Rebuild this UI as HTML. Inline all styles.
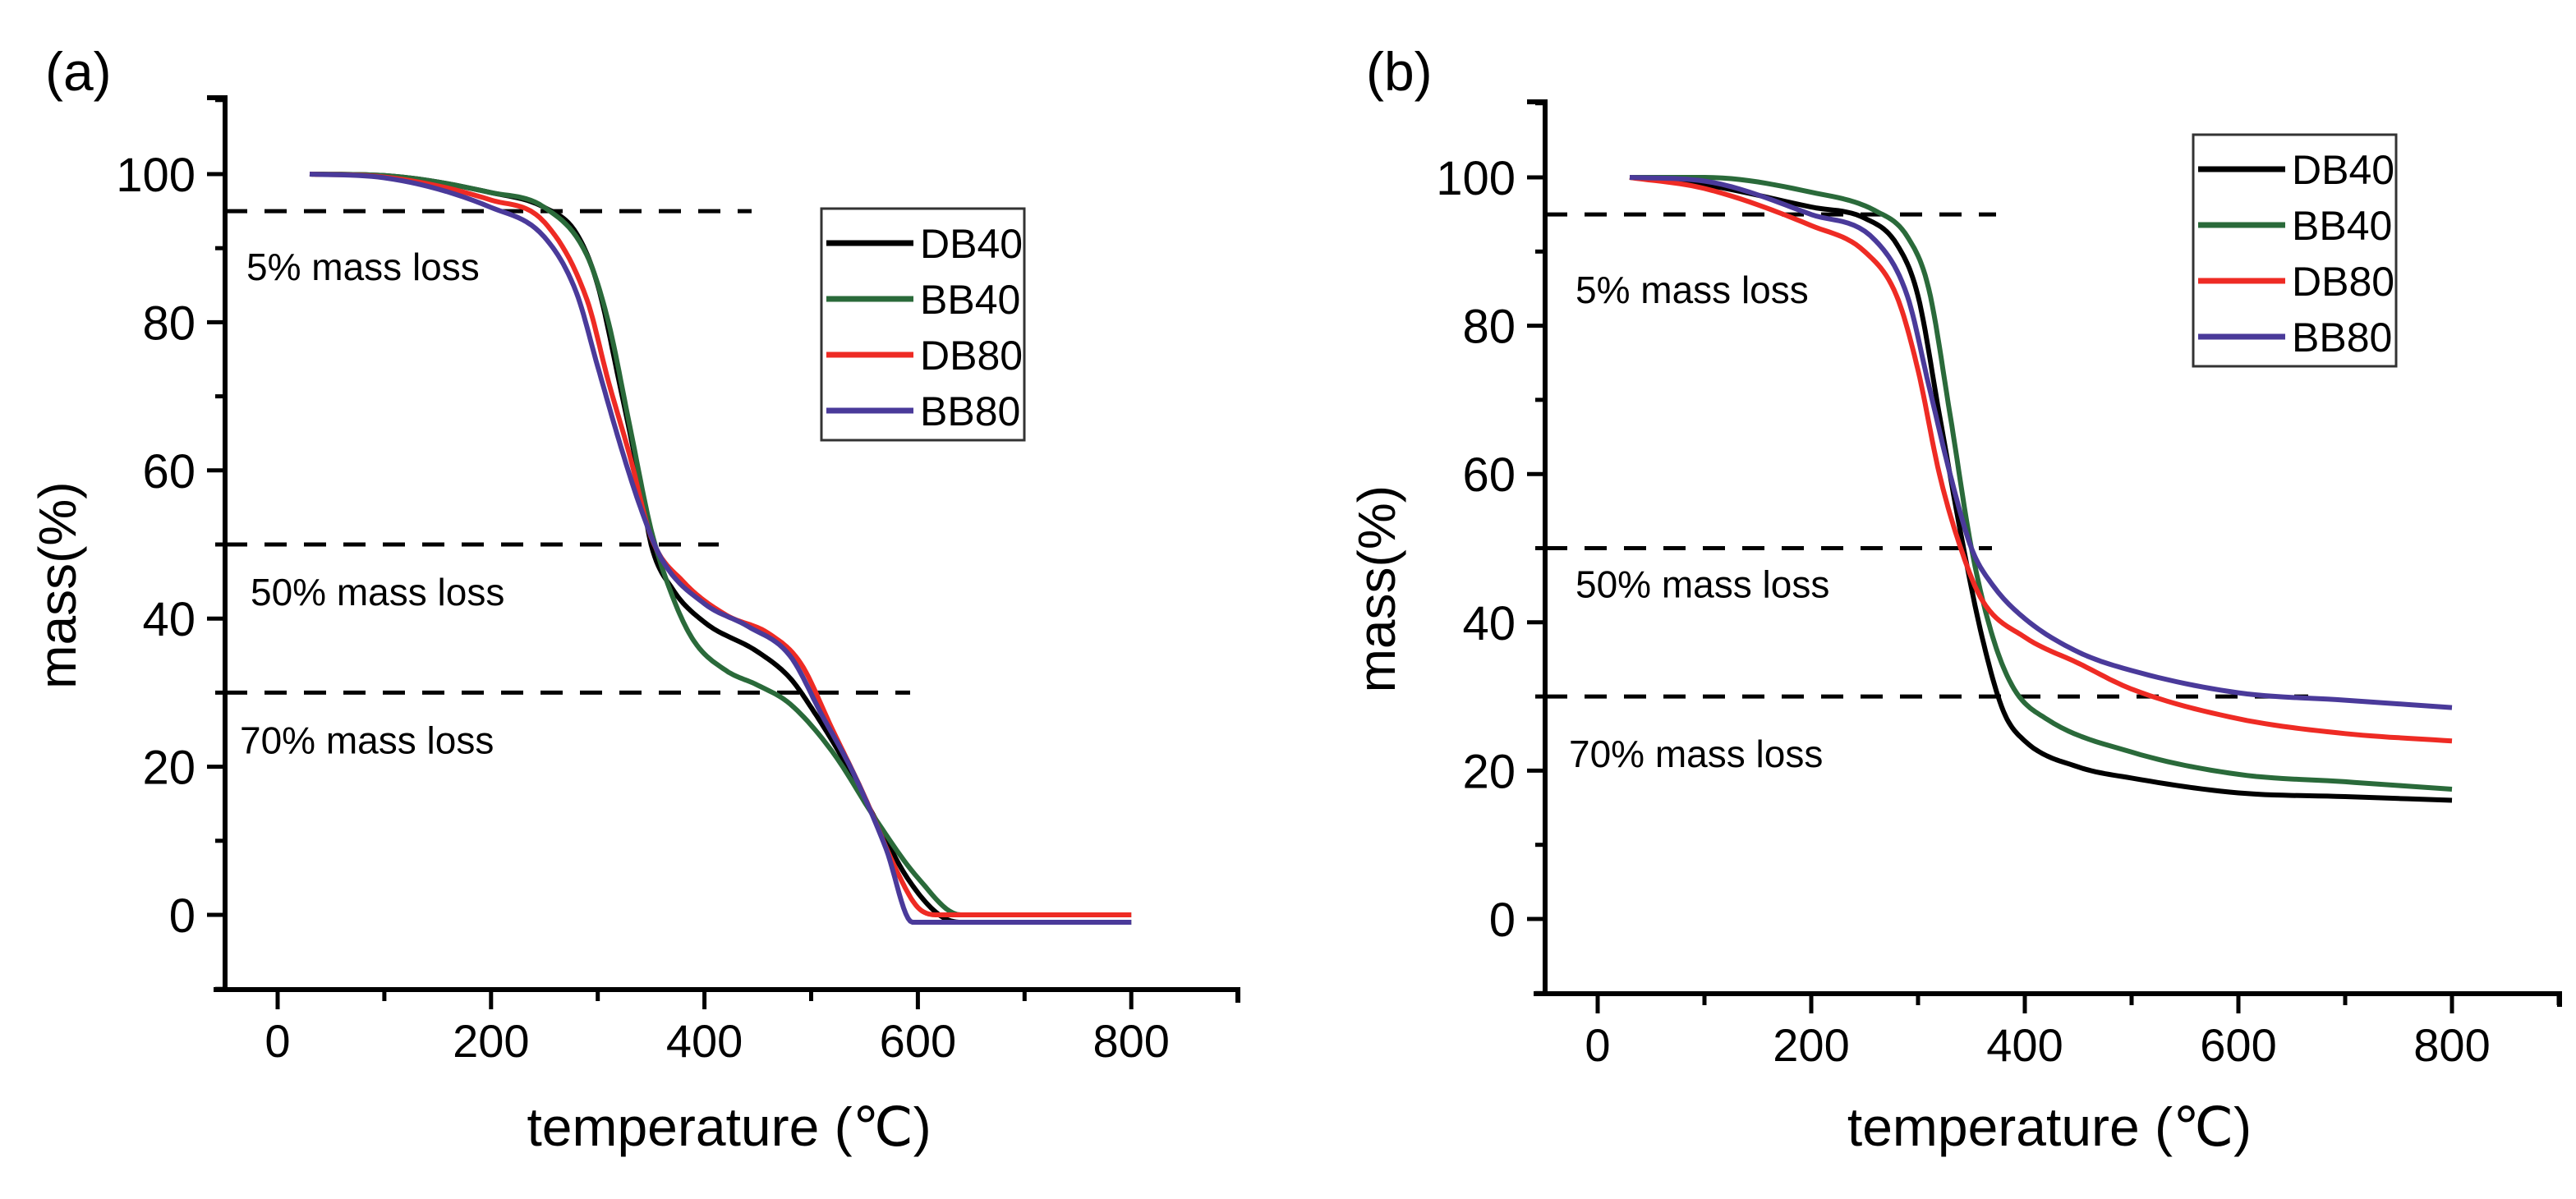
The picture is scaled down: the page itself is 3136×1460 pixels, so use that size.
<!DOCTYPE html>
<html><head><meta charset="utf-8"><style>
body{margin:0;background:#fff;}
svg text{font-family:"Liberation Sans",sans-serif;}
</style></head><body>
<svg id="c" width="3136" height="1455" viewBox="0 0 3136 1455" xmlns="http://www.w3.org/2000/svg"></svg>
<script>
const xTicks=[0,200,400,600,800];
const yTicks=[0,20,40,60,80,100];
const seriesNames=["DB40","BB40","DB80","BB80"];
const seriesColors=["#000000","#2a6a3a","#ee2b24","#4a3a9a"];
const a_DB40_x=[30,100,200,250,280,300,320,340,350,370,400,450,480,500,530,560,590,620,640,800];
const a_DB40_y=[100,99.8,97.5,95.5,92,85,72,58,50,44,39.5,35.5,32,28,21,13,5,0,-1,-1];
const a_BB40_x=[30,100,200,250,290,310,330,350,370,390,420,450,480,520,560,600,640,800];
const a_BB40_y=[100,99.8,97.5,95.5,89,80,66,52,43,37,33,31,28.5,22,13,5,0,0];
const a_DB80_x=[30,100,200,250,290,310,330,350,380,420,460,490,520,550,580,600,620,800];
const a_DB80_y=[100,99.6,96.5,93.5,83,72,62,51,45,40.5,38,34,25,16,6,1,0,0];
const a_BB80_x=[30,100,200,250,280,300,320,340,360,400,440,480,510,540,570,595,800];
const a_BB80_y=[100,99.5,95.5,91.5,84,74,64,55,48,42,39,35,27,19,9,-1,-1];
const b_DB40_x=[30,100,200,250,280,300,320,340,360,380,400,450,500,600,700,800];
const b_DB40_y=[100,99,96,94.5,91,84,68,52,38,28,24,20.5,19,17,16.5,16];
const b_BB40_x=[30,100,200,260,290,310,330,350,370,390,420,500,600,700,800];
const b_BB40_y=[100,100,98,95.5,92,85,68,50,38,31,27,22.5,19.5,18.5,17.5];
const b_DB80_x=[30,100,200,250,280,300,320,340,360,400,450,500,600,700,800];
const b_DB80_y=[100,98.5,93.5,90,84,74,60,50,43,38,34.5,31,27,25,24];
const b_BB80_x=[30,100,200,260,290,310,330,350,370,400,450,500,600,700,800];
const b_BB80_y=[100,99.5,95,91.5,84,72,60,50,45,40.5,36,33.5,30.5,29.5,28.5];
const lossLevels=[95,50,30];
const lossLabels=["5% mass loss","50% mass loss","70% mass loss"];

const NS="http://www.w3.org/2000/svg";
const svg=document.getElementById('c');
function mk(tag,attrs,parent){const e=document.createElementNS(NS,tag);for(const k in attrs)e.setAttribute(k,attrs[k]);(parent||svg).appendChild(e);return e;}
function monotone(xs,ys){
  const n=xs.length,d=[],m=new Array(n);
  for(let i=0;i<n-1;i++)d.push((ys[i+1]-ys[i])/(xs[i+1]-xs[i]));
  m[0]=d[0];m[n-1]=d[n-2];
  for(let i=1;i<n-1;i++){m[i]=(d[i-1]*d[i]<=0)?0:(d[i-1]+d[i])/2;}
  for(let i=0;i<n-1;i++){if(d[i]===0){m[i]=0;m[i+1]=0;continue;}const a=m[i]/d[i],b=m[i+1]/d[i],s=a*a+b*b;if(s>9){const t=3/Math.sqrt(s);m[i]=t*a*d[i];m[i+1]=t*b*d[i];}}
  const out=[];
  for(let i=0;i<n-1;i++){const h=xs[i+1]-xs[i];for(let k=0;k<12;k++){const t=k/12,t2=t*t,t3=t2*t;
    const y=(2*t3-3*t2+1)*ys[i]+(t3-2*t2+t)*h*m[i]+(-2*t3+3*t2)*ys[i+1]+(t3-t2)*h*m[i+1];out.push([xs[i]+t*h,y]);}}
  out.push([xs[n-1],ys[n-1]]);return out;
}

function panel(cfg){
  const g=mk('g',{});
  
  
  const X=v=>cfg.x0+v*cfg.xs, Y=v=>cfg.y0-v*cfg.ys;
  lossLevels.forEach((l,i)=>{
    const ln=mk('line',{x1:cfg.axL,x2:cfg.dashEnd[i],y1:Y(l),y2:Y(l),stroke:'#000','stroke-width':5,'stroke-dasharray':'27,21'},g);
    
    
    const t=mk('text',{x:cfg.lblX[i],y:Y(l)+cfg.lblDy[i],'font-size':46,fill:'#000'},g);t.textContent=lossLabels[i];
    
    
  });
  cfg.series.forEach((s,i)=>{
    const pts=monotone(s[0],s[1]).map(p=>`${X(p[0]).toFixed(1)},${Y(p[1]).toFixed(1)}`).join(' ');
    const p=mk('polyline',{points:pts,fill:'none',stroke:seriesColors[i],'stroke-width':6,'stroke-linejoin':'round'},g);
    
    
  });
  const ax=mk('path',{d:`M${cfg.axL-22},${cfg.axT}H${cfg.axL}V${cfg.axB}H${cfg.axR}V${cfg.axB+16}`,fill:'none',stroke:'#000','stroke-width':6},g);
  
  
  mk('line',{x1:cfg.axL-14,x2:cfg.axL,y1:cfg.axB,y2:cfg.axB,stroke:'#000','stroke-width':6},g);
  xTicks.forEach(v=>{
    mk('line',{x1:X(v),x2:X(v),y1:cfg.axB,y2:cfg.axB+24,stroke:'#000','stroke-width':5},g);
    mk('line',{x1:X(v+100),x2:X(v+100),y1:cfg.axB,y2:cfg.axB+14,stroke:'#000','stroke-width':5},g);
    const t=mk('text',{x:X(v),y:cfg.axB+82,'font-size':56,'text-anchor':'middle'},g);t.textContent=v;
    
    
  });
  yTicks.forEach(v=>{
    mk('line',{x1:cfg.axL-22,x2:cfg.axL,y1:Y(v),y2:Y(v),stroke:'#000','stroke-width':5},g);
    mk('line',{x1:cfg.axL-12,x2:cfg.axL,y1:Y(v+10),y2:Y(v+10),stroke:'#000','stroke-width':5},g);
    const t=mk('text',{x:cfg.axL-36,y:Y(v)+21,'font-size':58,'text-anchor':'end'},g);t.textContent=v;
    
    
  });
  mk('line',{x1:cfg.axL-12,x2:cfg.axL,y1:Y(-10),y2:Y(-10),stroke:'#000','stroke-width':5},g);
  const xt=mk('text',{x:(cfg.x0+X(800))/2+30,y:1395,'font-size':66,'text-anchor':'middle'},g);xt.textContent='temperature (℃)';
  
  
  const yt=mk('text',{x:0,y:0,'font-size':64,'text-anchor':'middle',transform:`translate(${cfg.ytX},${Y(44.5)}) rotate(-90)`},g);yt.textContent='mass(%)';
  
  
  const pl=mk('text',{x:cfg.tagX,y:110,'font-size':66},g);pl.textContent=cfg.tag;
  
  
  const lg=mk('g',{},g);
  
  
  mk('rect',{x:cfg.lgX,y:cfg.lgY,width:247,height:282,fill:'#fff',stroke:'#333','stroke-width':3},lg);
  seriesNames.forEach((n,i)=>{
    const yy=cfg.lgY+42+i*68;
    mk('line',{x1:cfg.lgX+6,x2:cfg.lgX+112,y1:yy,y2:yy,stroke:seriesColors[i],'stroke-width':7},lg);
    const t=mk('text',{x:cfg.lgX+120,y:yy+18,'font-size':50},lg);t.textContent=n;
    
    
  });
}
panel({name:'panel-a',tag:'(a)',tagX:55,x0:338,xs:1.299,y0:1114,ys:9.02,axL:274,axR:1507,axT:119,axB:1205,ytX:92,
  dashEnd:[915,875,1108],lblX:[300,305,292],lblDy:[84,74,74],lgX:1000,lgY:254,
  series:[[a_DB40_x,a_DB40_y],[a_BB40_x,a_BB40_y],[a_DB80_x,a_DB80_y],[a_BB80_x,a_BB80_y]]});
panel({name:'panel-b',tag:'(b)',tagX:1663,x0:1945,xs:1.30,y0:1119,ys:9.03,axL:1881,axR:3116,axT:124,axB:1210,ytX:1698,
  dashEnd:[2430,2425,2810],lblX:[1918,1918,1910],lblDy:[108,60,86],lgX:2670,lgY:164,
  series:[[b_DB40_x,b_DB40_y],[b_BB40_x,b_BB40_y],[b_DB80_x,b_DB80_y],[b_BB80_x,b_BB80_y]]});
</script>
</body></html>
